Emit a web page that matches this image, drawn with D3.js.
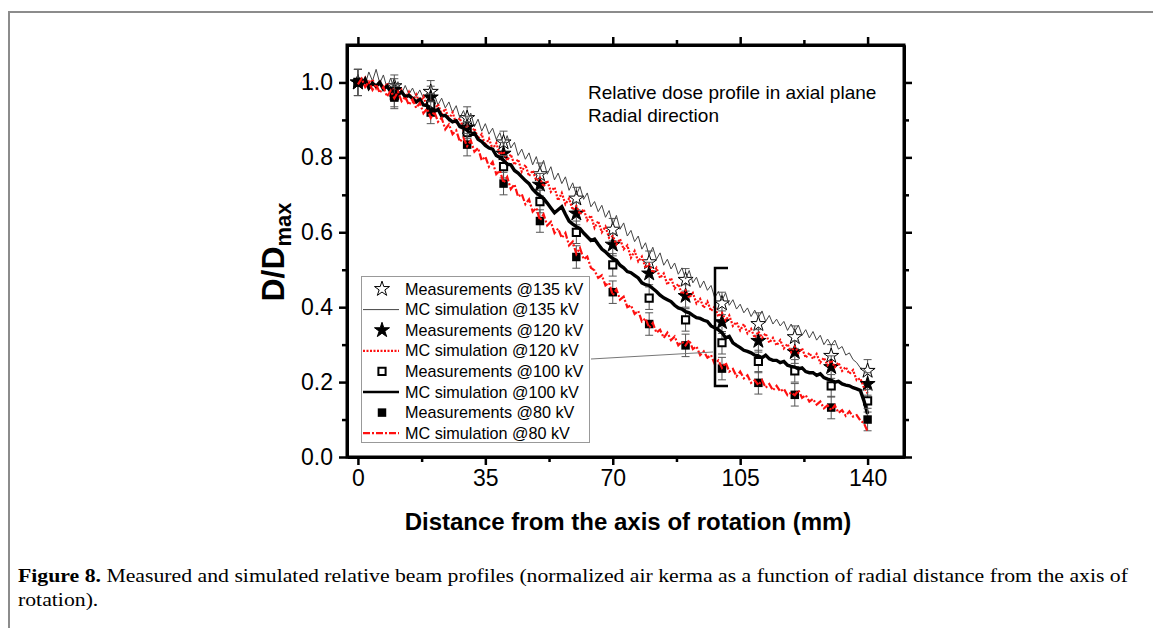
<!DOCTYPE html>
<html>
<head>
<meta charset="utf-8">
<script src="https://cdn.jsdelivr.net/npm/d3@7"></script>
<style>
  body { margin: 0; background: #fff; }
  svg { display: block; }
</style>
</head>
<body>
<script>
// measurement positions (mm) and relative dose
var measX = [0, 10, 20, 30, 40, 50, 60, 70, 80, 90, 100, 110, 120, 130, 140];
var meas135 = [1.0, 0.99, 0.975, 0.905, 0.84, 0.755, 0.69, 0.607, 0.52, 0.473, 0.41, 0.355, 0.32, 0.27, 0.23];
var meas120 = [1.0, 0.98, 0.96, 0.88, 0.81, 0.727, 0.65, 0.567, 0.49, 0.43, 0.36, 0.31, 0.28, 0.24, 0.195];
var meas100 = [1.0, 0.965, 0.94, 0.866, 0.775, 0.682, 0.6, 0.513, 0.424, 0.366, 0.305, 0.255, 0.23, 0.19, 0.15];
var meas80 = [1.0, 0.96, 0.92, 0.834, 0.73, 0.63, 0.534, 0.44, 0.355, 0.298, 0.236, 0.198, 0.166, 0.132, 0.10];
var measErr = [0.035, 0.03, 0.03, 0.03, 0.03, 0.03, 0.03, 0.03, 0.03, 0.03, 0.03, 0.03, 0.03, 0.03, 0.03];

// MC simulation, one value per mm from 0 to 140
var mc135 = [1.000, 1.012, 0.995, 1.028, 1.004, 1.035, 0.998, 1.020, 0.985, 1.012,
  0.978, 1.002, 0.970, 0.992, 0.968, 0.985, 0.962, 0.980, 0.958, 0.972,
  0.952, 0.968, 0.940, 0.958, 0.932, 0.948, 0.920, 0.938, 0.905, 0.925,
  0.895, 0.918, 0.882, 0.902, 0.870, 0.890, 0.862, 0.878, 0.848, 0.866,
  0.832, 0.858, 0.825, 0.840, 0.805, 0.822, 0.795, 0.812, 0.780, 0.802,
  0.768, 0.792, 0.755, 0.775, 0.740, 0.758, 0.730, 0.748, 0.712, 0.732,
  0.700, 0.722, 0.688, 0.705, 0.668, 0.682, 0.655, 0.672, 0.640, 0.658,
  0.620, 0.645, 0.608, 0.625, 0.590, 0.605, 0.575, 0.590, 0.555, 0.572,
  0.538, 0.560, 0.528, 0.545, 0.512, 0.528, 0.502, 0.518, 0.488, 0.505,
  0.475, 0.498, 0.465, 0.480, 0.452, 0.470, 0.445, 0.458, 0.425, 0.442,
  0.418, 0.438, 0.405, 0.420, 0.395, 0.408, 0.385, 0.398, 0.375, 0.392,
  0.372, 0.390, 0.362, 0.378, 0.355, 0.368, 0.350, 0.362, 0.338, 0.355,
  0.335, 0.352, 0.325, 0.340, 0.318, 0.335, 0.312, 0.325, 0.300, 0.315,
  0.298, 0.312, 0.288, 0.295, 0.272, 0.278, 0.260, 0.252, 0.238, 0.235, 0.222];
var mc120 = [1.005, 0.990, 1.012, 0.992, 1.008, 0.985, 1.005, 0.980, 0.998, 0.972,
  0.985, 0.962, 0.980, 0.958, 0.975, 0.950, 0.968, 0.945, 0.962, 0.935,
  0.950, 0.925, 0.942, 0.915, 0.930, 0.902, 0.920, 0.890, 0.905, 0.872,
  0.885, 0.862, 0.878, 0.850, 0.862, 0.832, 0.850, 0.822, 0.838, 0.808,
  0.815, 0.792, 0.808, 0.780, 0.795, 0.762, 0.780, 0.750, 0.765, 0.738,
  0.745, 0.722, 0.738, 0.708, 0.720, 0.685, 0.705, 0.675, 0.690, 0.660,
  0.670, 0.648, 0.662, 0.632, 0.645, 0.612, 0.630, 0.600, 0.615, 0.585,
  0.590, 0.568, 0.582, 0.555, 0.565, 0.532, 0.550, 0.522, 0.535, 0.505,
  0.515, 0.492, 0.505, 0.478, 0.490, 0.460, 0.478, 0.450, 0.462, 0.435,
  0.445, 0.425, 0.438, 0.410, 0.422, 0.398, 0.415, 0.390, 0.402, 0.375,
  0.385, 0.365, 0.378, 0.350, 0.360, 0.338, 0.355, 0.330, 0.342, 0.318,
  0.335, 0.318, 0.330, 0.305, 0.318, 0.298, 0.312, 0.290, 0.302, 0.280,
  0.295, 0.278, 0.290, 0.265, 0.278, 0.262, 0.275, 0.252, 0.265, 0.245,
  0.258, 0.240, 0.252, 0.230, 0.240, 0.222, 0.232, 0.205, 0.210, 0.185, 0.170];
var mc100 = [1.002, 0.992, 1.008, 0.985, 0.998, 0.990, 1.000, 0.982, 0.990, 0.975,
  0.978, 0.968, 0.975, 0.962, 0.965, 0.958, 0.948, 0.955, 0.940, 0.938,
  0.932, 0.922, 0.928, 0.910, 0.912, 0.902, 0.895, 0.898, 0.882, 0.878,
  0.872, 0.862, 0.865, 0.848, 0.842, 0.832, 0.825, 0.822, 0.805, 0.800,
  0.792, 0.782, 0.780, 0.765, 0.758, 0.748, 0.738, 0.730, 0.715, 0.705,
  0.698, 0.690, 0.678, 0.665, 0.652, 0.660, 0.668, 0.648, 0.630, 0.622,
  0.615, 0.610, 0.598, 0.588, 0.578, 0.582, 0.568, 0.555, 0.548, 0.538,
  0.530, 0.525, 0.512, 0.505, 0.495, 0.492, 0.485, 0.478, 0.465, 0.460,
  0.458, 0.450, 0.442, 0.432, 0.425, 0.420, 0.415, 0.405, 0.398, 0.395,
  0.388, 0.385, 0.378, 0.372, 0.370, 0.365, 0.362, 0.350, 0.345, 0.340,
  0.332, 0.318, 0.322, 0.305, 0.298, 0.292, 0.285, 0.282, 0.278, 0.272,
  0.270, 0.265, 0.272, 0.262, 0.258, 0.258, 0.252, 0.255, 0.245, 0.242,
  0.240, 0.235, 0.238, 0.228, 0.225, 0.225, 0.218, 0.222, 0.212, 0.208,
  0.205, 0.200, 0.202, 0.195, 0.192, 0.190, 0.185, 0.182, 0.178, 0.150, 0.115];
var mc80 = [0.995, 1.010, 0.988, 1.002, 0.980, 0.995, 0.972, 0.988, 0.962, 0.978,
  0.958, 0.975, 0.950, 0.962, 0.940, 0.955, 0.932, 0.945, 0.918, 0.930,
  0.905, 0.922, 0.895, 0.905, 0.875, 0.888, 0.862, 0.872, 0.842, 0.852,
  0.830, 0.845, 0.815, 0.825, 0.792, 0.802, 0.775, 0.788, 0.755, 0.765,
  0.732, 0.748, 0.715, 0.728, 0.695, 0.702, 0.675, 0.688, 0.655, 0.665,
  0.632, 0.648, 0.618, 0.628, 0.598, 0.610, 0.585, 0.598, 0.565, 0.575,
  0.542, 0.558, 0.528, 0.535, 0.505, 0.498, 0.478, 0.485, 0.458, 0.465,
  0.432, 0.448, 0.420, 0.428, 0.400, 0.405, 0.382, 0.390, 0.362, 0.370,
  0.345, 0.358, 0.332, 0.340, 0.318, 0.332, 0.312, 0.322, 0.298, 0.308,
  0.298, 0.312, 0.288, 0.295, 0.272, 0.282, 0.265, 0.272, 0.248, 0.258,
  0.238, 0.252, 0.228, 0.235, 0.215, 0.228, 0.210, 0.218, 0.198, 0.205,
  0.192, 0.205, 0.185, 0.195, 0.178, 0.190, 0.175, 0.182, 0.165, 0.172,
  0.165, 0.178, 0.158, 0.165, 0.148, 0.155, 0.140, 0.148, 0.130, 0.138,
  0.125, 0.138, 0.118, 0.125, 0.110, 0.122, 0.108, 0.112, 0.098, 0.090, 0.068];

var xTicks = [0, 35, 70, 105, 140];
var xMinor = [17.5, 52.5, 87.5, 122.5];
var yTicks = [0, 0.2, 0.4, 0.6, 0.8, 1.0];
var yMinor = [0.1, 0.3, 0.5, 0.7, 0.9];
var legendLabels = ["Measurements @135 kV", "MC simulation @135 kV", "Measurements @120 kV", "MC simulation @120 kV",
  "Measurements @100 kV", "MC simulation @100 kV", "Measurements @80 kV", "MC simulation @80 kV"];

var width = 1153, height = 628;
var svg = d3.select("body").append("svg").attr("width", width).attr("height", height);

// figure frame (top + left rule)
svg.append("path").attr("d", "M9,628V12H1153").attr("fill", "none").attr("stroke", "#8c8c8c").attr("stroke-width", 2);

var x = d3.scaleLinear().domain([-3, 150]).range([347, 904]);
var y = d3.scaleLinear().domain([0, 1.1]).range([457, 45]);
var mmX = d3.range(mc135.length);

var series = [
  {meas: meas135, mc: mc135, sym: d3.symbolStar, size: 70, fill: "#fff", stroke: "#000", sw: 1,
   line: {stroke: "#444", sw: 1, dash: null}},
  {meas: meas120, mc: mc120, sym: d3.symbolStar, size: 70, fill: "#000", stroke: "#000", sw: 1,
   line: {stroke: "#ff1010", sw: 2.2, dash: "2,1.5"}},
  {meas: meas100, mc: mc100, sym: d3.symbolSquare, size: 52, fill: "#fff", stroke: "#000", sw: 2,
   line: {stroke: "#000", sw: 3.4, dash: null}},
  {meas: meas80, mc: mc80, sym: d3.symbolSquare, size: 72, fill: "#000", stroke: "#000", sw: 0,
   line: {stroke: "#ff1010", sw: 2.2, dash: "7,2,2,2"}}
];

var plot = svg.append("g");
var line = d3.line().x(function(d, i){ return x(mmX[i]); }).y(function(d){ return y(d); });

series.forEach(function(s){
  // error bars
  var eb = plot.append("g").attr("stroke", "#555").attr("stroke-width", 1);
  measX.forEach(function(mx, i){
    var cx = x(mx), e = measErr[i];
    eb.append("line").attr("x1", cx).attr("x2", cx).attr("y1", y(s.meas[i] - e)).attr("y2", y(s.meas[i] + e));
    eb.append("line").attr("x1", cx - 4).attr("x2", cx + 4).attr("y1", y(s.meas[i] - e)).attr("y2", y(s.meas[i] - e));
    eb.append("line").attr("x1", cx - 4).attr("x2", cx + 4).attr("y1", y(s.meas[i] + e)).attr("y2", y(s.meas[i] + e));
  });
  plot.append("g").selectAll("path")
    .data(s.meas)
    .enter().append("path")
      .attr("d", d3.symbol().type(s.sym).size(s.size))
      .attr("transform", function(d, i){ return "translate(" + x(measX[i]) + "," + y(d) + ")"; })
      .attr("fill", s.fill).attr("stroke", s.stroke).attr("stroke-width", s.sw);
  plot.append("path").datum(s.mc)
    .attr("d", line)
    .attr("fill", "none")
    .attr("stroke", s.line.stroke)
    .attr("stroke-width", s.line.sw)
    .attr("stroke-dasharray", s.line.dash);
});

// axes
var axisFont = "'Liberation Sans', Arial, sans-serif";
function styleAxis(g){
  g.select(".domain").attr("stroke-width", 3);
  g.selectAll(".tick line").attr("stroke-width", 2.5);
  g.selectAll("text").attr("font-size", 23).attr("font-family", axisFont).attr("fill", "#000");
}
var fmt = d3.format(".1f");
svg.append("g").attr("transform", "translate(0,457)")
  .call(d3.axisBottom(x).tickValues(xTicks).tickSize(8).tickSizeOuter(0).tickPadding(5))
  .call(styleAxis);
svg.append("g").attr("transform", "translate(0,457)")
  .call(d3.axisBottom(x).tickValues(xMinor).tickSize(5).tickSizeOuter(0).tickFormat(""))
  .call(styleAxis);
svg.append("g").attr("transform", "translate(0,45)")
  .call(d3.axisTop(x).tickValues(xTicks).tickSize(8).tickSizeOuter(0).tickFormat(""))
  .call(styleAxis);
svg.append("g").attr("transform", "translate(0,45)")
  .call(d3.axisTop(x).tickValues(xMinor).tickSize(5).tickSizeOuter(0).tickFormat(""))
  .call(styleAxis);
svg.append("g").attr("transform", "translate(347,0)")
  .call(d3.axisLeft(y).tickValues(yTicks).tickSize(8).tickSizeOuter(0).tickFormat(fmt).tickPadding(6))
  .call(styleAxis);
svg.append("g").attr("transform", "translate(347,0)")
  .call(d3.axisLeft(y).tickValues(yMinor).tickSize(5).tickSizeOuter(0).tickFormat(""))
  .call(styleAxis);
svg.append("g").attr("transform", "translate(904,0)")
  .call(d3.axisRight(y).tickValues(yTicks).tickSize(8).tickSizeOuter(0).tickFormat(""))
  .call(styleAxis);
svg.append("g").attr("transform", "translate(904,0)")
  .call(d3.axisRight(y).tickValues(yMinor).tickSize(5).tickSizeOuter(0).tickFormat(""))
  .call(styleAxis);
// close frame corners
svg.append("rect").attr("x", 347).attr("y", 45).attr("width", 557).attr("height", 412)
  .attr("fill", "none").attr("stroke", "#000").attr("stroke-width", 3);

// axis titles
svg.append("text").attr("x", 628).attr("y", 530).attr("text-anchor", "middle")
  .attr("font-family", axisFont).attr("font-weight", "bold").attr("font-size", 24)
  .text("Distance from the axis of rotation (mm)");
var yt = svg.append("text").attr("transform", "translate(284,252) rotate(-90)").attr("text-anchor", "middle")
  .attr("font-family", axisFont).attr("font-weight", "bold").attr("font-size", 32);
yt.append("tspan").text("D/D");
yt.append("tspan").attr("font-size", 22).attr("dy", 7).text("max");

// annotation
svg.append("text").attr("x", 588).attr("y", 99).attr("font-family", axisFont).attr("font-size", 19)
  .text("Relative dose profile in axial plane");
svg.append("text").attr("x", 588).attr("y", 122).attr("font-family", axisFont).attr("font-size", 19)
  .text("Radial direction");

// bracket and connector
svg.append("path").attr("d", "M728,268H715V386H728").attr("fill", "none").attr("stroke", "#000").attr("stroke-width", 2.5);
svg.append("line").attr("x1", 591).attr("y1", 359).attr("x2", 713).attr("y2", 352).attr("stroke", "#777").attr("stroke-width", 1);

// legend
var lg = svg.append("g");
lg.append("rect").attr("x", 361.5).attr("y", 276.5).attr("width", 228).attr("height", 166)
  .attr("fill", "#fff").attr("stroke", "#999").attr("stroke-width", 1);
legendLabels.forEach(function(lbl, i){
  var cy = 289 + i * 20.6;
  var s = series[Math.floor(i / 2)];
  if (i % 2 === 0) {
    lg.append("path").attr("d", d3.symbol().type(s.sym).size(s.size))
      .attr("transform", "translate(382," + cy + ")")
      .attr("fill", s.fill).attr("stroke", s.stroke).attr("stroke-width", s.sw);
  } else {
    lg.append("line").attr("x1", 363).attr("x2", 399).attr("y1", cy).attr("y2", cy)
      .attr("stroke", s.line.stroke).attr("stroke-width", Math.min(s.line.sw, 2.5)).attr("stroke-dasharray", s.line.dash);
  }
  lg.append("text").attr("x", 405).attr("y", cy + 5.5).attr("font-family", axisFont).attr("font-size", 16.2)
    .text(lbl);
});

// caption
var capFont = "'Liberation Serif', 'Times New Roman', serif";
var cap1 = svg.append("text").attr("x", 18).attr("y", 582).attr("font-family", capFont).attr("font-size", 18);
cap1.append("tspan").attr("font-weight", "bold").text("Figure 8.");
cap1.append("tspan").text(" Measured and simulated relative beam profiles (normalized air kerma as a function of radial distance from the axis of");
var natural = cap1.node().getComputedTextLength();
var target = 1110;
cap1.attr("textLength", target).attr("lengthAdjust", "spacingAndGlyphs");
var cap2 = svg.append("text").attr("x", 18).attr("y", 606).attr("font-family", capFont).attr("font-size", 18)
  .text("rotation).");
var w2 = cap2.node().getComputedTextLength();
cap2.attr("textLength", w2 * target / natural).attr("lengthAdjust", "spacingAndGlyphs");
</script>
</body>
</html>
